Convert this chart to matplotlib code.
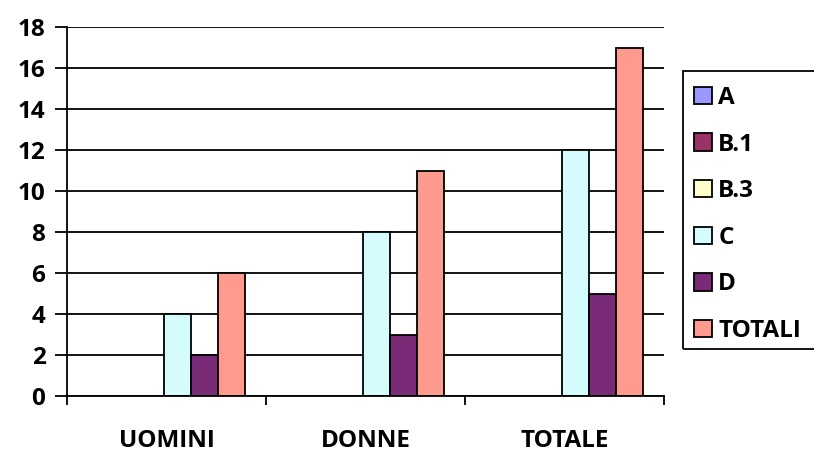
import numpy as np
import matplotlib.pyplot as plt
from matplotlib.patches import Rectangle

plt.rcParams['font.family'] = ['Open Sans', 'DejaVu Sans']
plt.rcParams['font.weight'] = 'bold'

# categories and series
categories = ['UOMINI', 'DONNE', 'TOTALE']
series = ['A', 'B.1', 'B.3', 'C', 'D', 'TOTALI']
values = {
    'A': [0, 0, 0],
    'B.1': [0, 0, 0],
    'B.3': [0, 0, 0],
    'C': [4, 8, 12],
    'D': [2, 3, 5],
    'TOTALI': [6, 11, 17],
}
colors = ['#9999FF', '#993366', '#FFFFCC', '#D4FCFC', '#7A2B78', '#FF9A8E']
fs = 17.5

fig = plt.figure(figsize=(8.14, 4.51), dpi=100)
ax = fig.add_axes([67 / 814, 1 - 396 / 451, (664 - 67) / 814, (396 - 27) / 451])

x = np.arange(1, len(categories) + 1)
w = 27 / 199
offset0 = -2.5 * w - 0.012
handles = []
for i, name in enumerate(series):
    b = ax.bar(x + offset0 + i * w, values[name], width=w, color=colors[i],
               edgecolor='black', linewidth=1.3, zorder=3, label=name)
    handles.append(b)

ax.set_xlim(0.5, 3.5)
ax.set_ylim(0, 18)
ax.set_yticks(np.arange(0, 19, 2))
ax.yaxis.grid(True, color='black', linewidth=1.3, zorder=0)
ax.set_axisbelow(True)

ax.set_xticks(x)
ax.set_xticklabels(categories, fontsize=fs, fontweight='bold')
ax.set_xticks([0.5, 1.5, 2.5, 3.5], minor=True)
ax.tick_params(axis='x', which='major', length=0, pad=23.5)
ax.tick_params(axis='x', which='minor', length=6.5, width=1.3, direction='out')
ax.tick_params(axis='y', length=8.5, width=1.3, direction='out', pad=7,
               labelsize=fs)
for lab in ax.get_yticklabels():
    lab.set_fontweight('bold')

for s in ['top', 'right']:
    ax.spines[s].set_visible(False)
for s in ['left', 'bottom']:
    ax.spines[s].set_linewidth(1.3)
    ax.spines[s].set_zorder(4)

leg = fig.legend(handles=handles, labels=series, loc='upper left',
                 bbox_to_anchor=(694 / 814, 1 - 86 / 451), frameon=False,
                 prop={'size': fs, 'weight': 'bold'}, handlelength=0.72,
                 handleheight=0.72, handletextpad=0.28, labelspacing=0.93,
                 borderaxespad=0, borderpad=0)

# legend border runs off the right edge
fig.patches.append(Rectangle((683 / 814, 1 - 349 / 451), 150 / 814, 278 / 451,
                             transform=fig.transFigure, fill=False,
                             edgecolor='black', linewidth=1.3, clip_on=False))

fig.savefig('out.png', dpi=100)
